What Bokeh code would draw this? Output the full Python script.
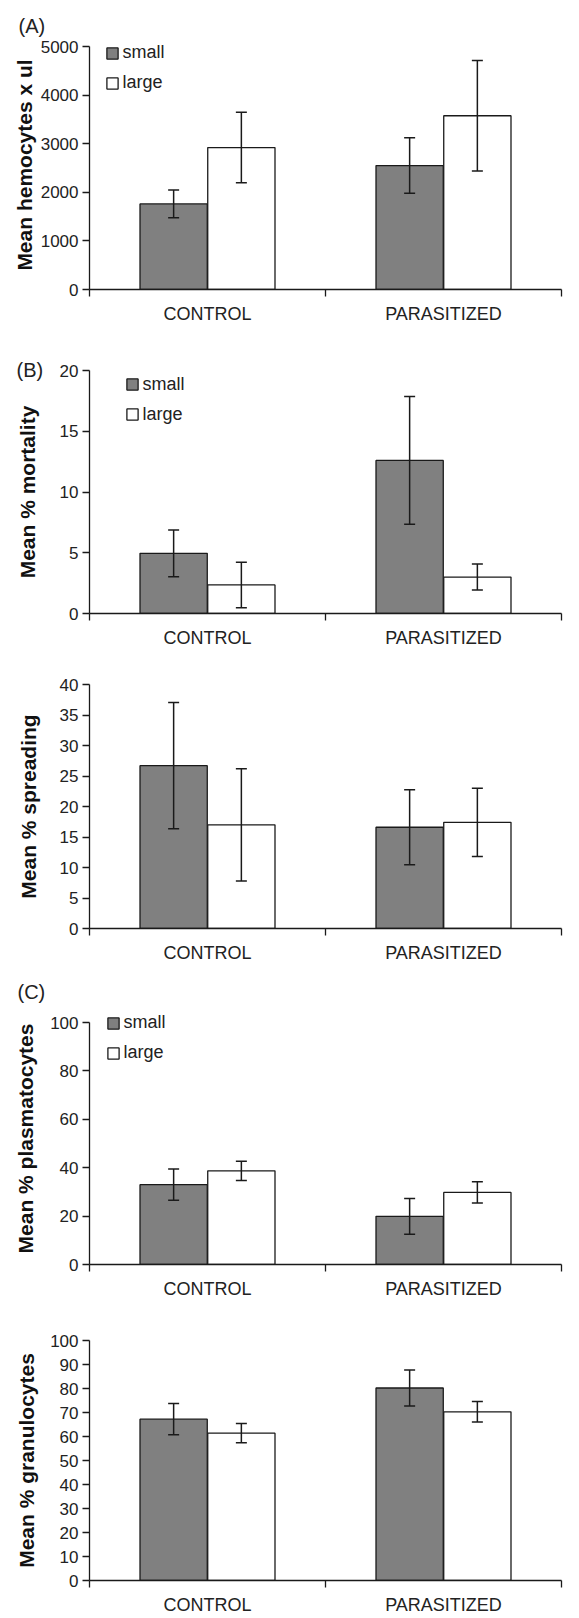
from bokeh.plotting import figure
from bokeh.models import (Range1d, FixedTicker, Whisker, TeeHead, ColumnDataSource,
                          Legend, LegendItem)
from bokeh.layouts import column
from bokeh.embed import file_html
from bokeh.resources import INLINE

# ---------------- data ----------------
categories = ["CONTROL", "PARASITIZED"]
series_names = ["small", "large"]

hemo_small = [1760, 2550]
hemo_small_err = [285, 570]
hemo_large = [2920, 3575]
hemo_large_err = [725, 1135]
hemo_ticks = [0, 1000, 2000, 3000, 4000, 5000]

mort_small = [4.95, 12.6]
mort_small_err = [1.93, 5.25]
mort_large = [2.35, 3.0]
mort_large_err = [1.87, 1.07]
mort_ticks = [0, 5, 10, 15, 20]

spread_small = [26.7, 16.6]
spread_small_err = [10.35, 6.15]
spread_large = [17.0, 17.4]
spread_large_err = [9.2, 5.6]
spread_ticks = [0, 5, 10, 15, 20, 25, 30, 35, 40]

plasma_small = [33.0, 19.9]
plasma_small_err = [6.5, 7.4]
plasma_large = [38.7, 29.8]
plasma_large_err = [4.0, 4.35]
plasma_ticks = [0, 20, 40, 60, 80, 100]

gran_small = [67.2, 80.2]
gran_small_err = [6.5, 7.5]
gran_large = [61.4, 70.3]
gran_large_err = [4.0, 4.25]
gran_ticks = [0, 10, 20, 30, 40, 50, 60, 70, 80, 90, 100]

# ---------------- styling ----------------
FONT = "Liberation Sans"
INK = "#1a1a1a"
GRAY = "#808080"
BAR_W = 0.285
OFFSET = 0.1435


def panel(width, height, left, right, top, bottom, ticks, ylabel, ylab_standoff,
          small, small_err, large, large_err, ext_px=0,
          letter=None, letter_offset=0, letter_standoff=10, legend_xy=None):
    frame_h = height - top - bottom
    y_end = ticks[-1] * frame_h / (frame_h - ext_px)
    p = figure(width=width, height=height, output_backend="svg", toolbar_location=None,
               x_range=Range1d(0, len(categories)), y_range=Range1d(ticks[0], y_end),
               min_border_left=left, min_border_right=right,
               min_border_top=top, min_border_bottom=bottom)
    p.outline_line_color = None
    p.grid.visible = False
    p.background_fill_color = "white"
    p.border_fill_color = "white"

    if letter is not None:
        p.title.text = letter
        p.title.align = "left"
        p.title.offset = letter_offset
        p.title.standoff = letter_standoff
        p.title.text_font = FONT
        p.title.text_font_size = "20px"
        p.title.text_font_style = "normal"
        p.title.text_color = "#222222"

    centers = [i + 0.5 for i in range(len(categories))]
    xs = [c - OFFSET for c in centers]
    xl = [c + OFFSET for c in centers]

    rs = p.vbar(x=xs, top=small, width=BAR_W, bottom=0, fill_color=GRAY,
                line_color=INK, line_width=1.3)
    rl = p.vbar(x=xl, top=large, width=BAR_W, bottom=0, fill_color="white",
                line_color=INK, line_width=1.3)

    for xx, vals, errs in ((xs, small, small_err), (xl, large, large_err)):
        src = ColumnDataSource(dict(x=xx,
                                    upper=[v + e for v, e in zip(vals, errs)],
                                    lower=[v - e for v, e in zip(vals, errs)]))
        w = Whisker(base="x", upper="upper", lower="lower", source=src,
                    line_color=INK, line_width=1.5, level="annotation",
                    upper_head=TeeHead(size=11, line_color=INK, line_width=1.5),
                    lower_head=TeeHead(size=11, line_color=INK, line_width=1.5))
        p.add_layout(w)

    # x axis: labels at category centres, ticks at category boundaries
    xa = p.xaxis[0]
    xa.ticker = FixedTicker(ticks=centers, minor_ticks=list(range(len(categories) + 1)))
    xa.major_label_overrides = {c: name for c, name in zip(centers, categories)}
    xa.major_tick_line_color = None
    xa.major_tick_out = 0
    xa.major_tick_in = 0
    xa.minor_tick_out = 7
    xa.minor_tick_in = 0
    xa.minor_tick_line_color = INK
    xa.minor_tick_line_width = 1.3
    xa.axis_line_color = INK
    xa.axis_line_width = 1.3
    xa.major_label_text_font = FONT
    xa.major_label_text_font_size = "18px"
    xa.major_label_text_color = "#222222"
    xa.major_label_standoff = 7

    ya = p.yaxis[0]
    ya.ticker = FixedTicker(ticks=ticks, minor_ticks=[])
    ya.bounds = (ticks[0], ticks[-1])
    ya.major_tick_in = 0
    ya.major_tick_out = 7
    ya.major_tick_line_color = INK
    ya.major_tick_line_width = 1.3
    ya.minor_tick_line_color = None
    ya.axis_line_color = INK
    ya.axis_line_width = 1.3
    ya.major_label_text_font = FONT
    ya.major_label_text_font_size = "17px"
    ya.major_label_text_color = "#222222"
    ya.major_label_standoff = 4
    ya.axis_label = ylabel
    ya.axis_label_text_font = FONT
    ya.axis_label_text_font_size = "21px"
    ya.axis_label_text_font_style = "bold"
    ya.axis_label_text_color = "#111111"
    ya.axis_label_standoff = ylab_standoff

    if legend_xy is not None:
        leg = Legend(items=[LegendItem(label=series_names[0], renderers=[rs]),
                            LegendItem(label=series_names[1], renderers=[rl])],
                     location=legend_xy, orientation="vertical",
                     glyph_width=14, glyph_height=14, label_height=20,
                     label_standoff=4, spacing=9, padding=0, margin=0,
                     border_line_color=None, background_fill_alpha=0,
                     label_text_font=FONT, label_text_font_size="18px",
                     label_text_color="#222222")
        p.add_layout(leg, "center")
    return p


W = 579
pA = panel(W, 327, 86, 18, 40, 38, hemo_ticks, "Mean hemocytes x ul", 2,
           hemo_small, hemo_small_err, hemo_large, hemo_large_err, ext_px=6,
           letter="(A)", letter_offset=-71, letter_standoff=7, legend_xy=(15.6, 196))
pB = panel(W, 324, 88, 0, 43, 38, mort_ticks, "Mean % mortality", 18,
           mort_small, mort_small_err, mort_large, mort_large_err,
           letter="(B)", letter_offset=-73, letter_standoff=-20, legend_xy=(35.6, 188.5))
pB2 = panel(W, 315, 88, 7, 33, 38, spread_ticks, "Mean % spreading", 17,
            spread_small, spread_small_err, spread_large, spread_large_err)
pC = panel(W, 336, 89, 7, 46, 38, plasma_ticks, "Mean % plasmatocytes", 10,
           plasma_small, plasma_small_err, plasma_large, plasma_large_err, ext_px=10,
           letter="(C)", letter_offset=-72, letter_standoff=20, legend_xy=(16.6, 201))
pC2 = panel(W, 316, 88, 16, 38, 38, gran_ticks, "Mean % granulocytes", 9,
            gran_small, gran_small_err, gran_large, gran_large_err)

layout = column(pA, pB, pB2, pC, pC2, spacing=0)
open("out.html", "w").write(file_html(layout, INLINE))
